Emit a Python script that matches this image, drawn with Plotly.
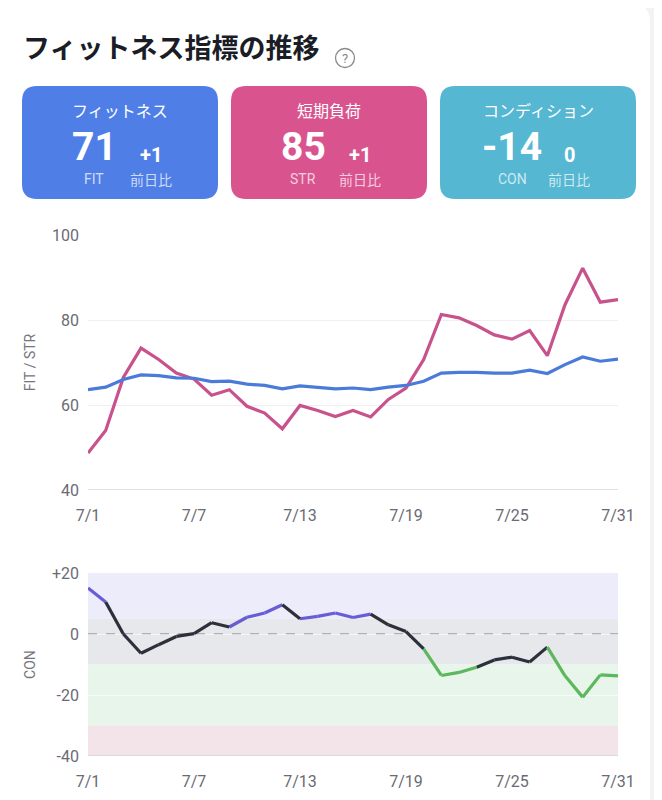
import plotly.graph_objects as go

# 日付（7月）
days = ["7/1", "7/2", "7/3", "7/4", "7/5", "7/6", "7/7", "7/8", "7/9", "7/10",
        "7/11", "7/12", "7/13", "7/14", "7/15", "7/16", "7/17", "7/18", "7/19", "7/20",
        "7/21", "7/22", "7/23", "7/24", "7/25", "7/26", "7/27", "7/28", "7/29", "7/30", "7/31"]
tick_days = ["7/1", "7/7", "7/13", "7/19", "7/25", "7/31"]

fit = [63.6, 64.2, 66.0, 67.1, 66.9, 66.4, 66.3, 65.5, 65.6, 64.9,
       64.6, 63.8, 64.5, 64.2, 63.8, 64.0, 63.6, 64.2, 64.6, 65.6,
       67.5, 67.7, 67.7, 67.5, 67.5, 68.2, 67.4, 69.5, 71.3, 70.3, 70.8]
stre = [48.7, 54.0, 66.5, 73.4, 70.7, 67.5, 66.1, 62.3, 63.6, 59.7,
        58.1, 54.4, 59.9, 58.7, 57.3, 58.7, 57.2, 61.3, 64.0, 70.7,
        81.3, 80.5, 78.7, 76.5, 75.5, 77.5, 71.6, 83.6, 92.2, 84.2, 84.8]
con = [15.1, 10.5, 0.0, -6.3, -3.5, -0.8, 0.1, 3.7, 2.3, 5.5,
       6.9, 9.6, 5.0, 5.8, 6.9, 5.4, 6.5, 3.0, 0.8, -4.9,
       -13.6, -12.6, -10.9, -8.5, -7.6, -9.2, -4.3, -13.7, -20.7, -13.4, -13.7]

# カード
card_labels = ["フィットネス", "短期負荷", "コンディション"]
card_values = ["71", "85", "-14"]
card_codes = ["FIT", "STR", "CON"]
card_diffs = ["+1", "+1", "0"]
card_colors = ["#4f7fe6", "#d9548f", "#55b7d1"]

# コンディションの帯
band_lo = [5, -10, -30, -40]
band_hi = [20, 5, -10, -30]
band_colors = ["#ececfb", "#e7e8eb", "#e8f5eb", "#f3e4ea"]

W, H = 662, 800
OFF = 8  # ページ余白のぶんだけずらす
FONT = "Roboto, Noto Sans CJK JP"
JP = "Noto Sans CJK JP"


def px(x):
    return (x - OFF) / W


def py(y):
    return 1 - (y - OFF) / H


def rrect(x0, y0, x1, y1, r):
    # 角丸の矩形（paper座標のパス）
    pts = [
        f"M {px(x0 + r)} {py(y0)}",
        f"L {px(x1 - r)} {py(y0)}",
        f"Q {px(x1)} {py(y0)} {px(x1)} {py(y0 + r)}",
        f"L {px(x1)} {py(y1 - r)}",
        f"Q {px(x1)} {py(y1)} {px(x1 - r)} {py(y1)}",
        f"L {px(x0 + r)} {py(y1)}",
        f"Q {px(x0)} {py(y1)} {px(x0)} {py(y1 - r)}",
        f"L {px(x0)} {py(y0 + r)}",
        f"Q {px(x0)} {py(y0)} {px(x0 + r)} {py(y0)}",
        "Z",
    ]
    return " ".join(pts)


def note(text, x, y, size, color, family=FONT, xanchor="center"):
    return dict(text=text, x=px(x), y=py(y), xref="paper", yref="paper",
                xanchor=xanchor, yanchor="middle", showarrow=False,
                font=dict(family=family, size=size, color=color))


fig = go.Figure()

fig.add_trace(go.Scatter(x=days, y=stre, mode="lines", line=dict(color="#c8528c", width=3.2),
                         xaxis="x", yaxis="y", hoverinfo="skip"))
fig.add_trace(go.Scatter(x=days, y=fit, mode="lines", line=dict(color="#4a7bd9", width=3.2),
                         xaxis="x", yaxis="y", hoverinfo="skip"))

# 値によって線の色を分ける
seg = {"high": ([], []), "mid": ([], []), "low": ([], [])}
for i in range(len(days) - 1):
    v = con[i + 1]
    k = "high" if v > 5 else ("low" if v < -10 else "mid")
    seg[k][0].extend([days[i], days[i + 1], None])
    seg[k][1].extend([con[i], con[i + 1], None])
seg_colors = {"high": "#675ed6", "mid": "#2b303b", "low": "#5cb85c"}
for k, (xs, ys) in seg.items():
    fig.add_trace(go.Scatter(x=xs, y=ys, mode="lines", connectgaps=False,
                             line=dict(color=seg_colors[k], width=3.2),
                             xaxis="x2", yaxis="y2", hoverinfo="skip"))

shapes = []
# 背景カード
shapes.append(dict(type="path", path=rrect(-20, 4, 650, 830, 18), xref="paper", yref="paper",
                   fillcolor="white", line=dict(width=0), layer="below"))
for lo, hi, c in zip(band_lo, band_hi, band_colors):
    shapes.append(dict(type="rect", xref="x2 domain", yref="y2", x0=0, x1=1, y0=lo, y1=hi,
                       fillcolor=c, line=dict(width=0), layer="below"))
shapes.append(dict(type="line", xref="x2 domain", yref="y2", x0=0, x1=1, y0=0, y1=0,
                   line=dict(color="#9c9ca8", width=1.5, dash="dash"), layer="below"))
shapes.append(dict(type="circle", xref="paper", yref="paper",
                   x0=px(335.5), x1=px(354.5), y0=py(48.5), y1=py(67.5),
                   line=dict(color="#8a8a8a", width=1.3)))

annotations = [
    note("<b>フィットネス指標の推移</b>", 21, 47, 27, "#1a1d26", JP, "left"),
    note("?", 345, 58, 13, "#8a8a8a"),
]

card_x = [22, 231, 440]
for cx, lab, val, code, diff, col in zip(card_x, card_labels, card_values, card_codes,
                                          card_diffs, card_colors):
    shapes.append(dict(type="path", path=rrect(cx, 86, cx + 196, 199, 15), xref="paper",
                       yref="paper", fillcolor=col, line=dict(width=0), layer="below"))
    annotations += [
        note(lab, cx + 98, 110, 16, "white", JP),
        note(f"<b>{val}</b>", cx + 72, 147, 39, "white"),
        note(f"<b>{diff}</b>", cx + 129, 155, 20, "white"),
        note(code, cx + 72, 179, 14, "rgba(255,255,255,0.72)"),
        note("前日比", cx + 129, 179, 14, "rgba(255,255,255,0.72)", JP),
    ]

axis_common = dict(tickfont=dict(family=FONT, size=16, color="#6b6b73"), ticks="",
                   showline=False, zeroline=False, automargin=False, ticklabelstandoff=8)
x_common = dict(type="category", categoryorder="array", categoryarray=days, range=[0, 30],
                tickvals=tick_days, ticktext=tick_days, showgrid=False,
                domain=[px(88), px(618)], **axis_common)
x_common["ticklabelstandoff"] = 14

fig.update_layout(
    width=W, height=H,
    margin=dict(l=0, r=0, t=0, b=0, pad=0),
    paper_bgcolor="#f2f3f5", plot_bgcolor="rgba(0,0,0,0)",
    showlegend=False,
    font=dict(family=FONT),
    shapes=shapes, annotations=annotations,
    xaxis=dict(anchor="y", **x_common),
    yaxis=dict(domain=[py(490), py(235)], anchor="x", range=[40, 100],
               tickvals=[40, 60, 80, 100], showgrid=True, gridcolor="#efeff2", gridwidth=1,
               title=dict(text="FIT / STR", font=dict(size=14, color="#75757d"), standoff=13),
               **axis_common),
    xaxis2=dict(anchor="y2", **x_common),
    yaxis2=dict(domain=[py(756), py(573)], anchor="x2", range=[-40, 20],
                tickvals=[-40, -20, 0, 20], ticktext=["-40", "-20", "0", "+20"],
                showgrid=True, gridcolor="rgba(255,255,255,0.6)",
                title=dict(text="CON", font=dict(size=14, color="#75757d"), standoff=13),
                **axis_common),
)
# x軸の下線
fig.add_shape(type="line", xref="x domain", yref="y", x0=0, x1=1, y0=40, y1=40,
              line=dict(color="#d4d4dc", width=1.5))
fig.add_shape(type="line", xref="x2 domain", yref="y2", x0=0, x1=1, y0=-40, y1=-40,
              line=dict(color="#d4d4dc", width=1.5))

fig.write_html("out.html")
